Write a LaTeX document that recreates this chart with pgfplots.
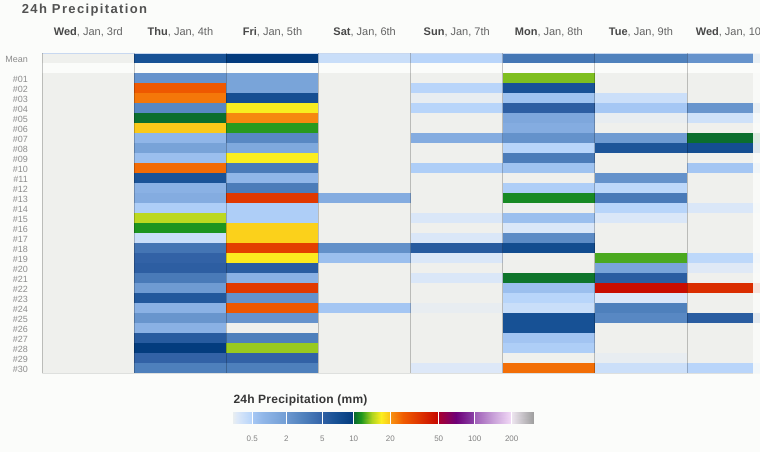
\documentclass[border=0pt]{standalone}
\usepackage{pgfplots}
\pgfplotsset{compat=1.18}
\usepackage{fontspec}
\setmainfont{Liberation Sans}
\newfontfamily\titlefont[LetterSpace=10.5]{Liberation Sans}
\newfontfamily\cbfont[LetterSpace=2]{Liberation Sans}
\definecolor{bgc}{RGB}{251,252,250}
\definecolor{lab}{RGB}{140,140,140}
\definecolor{headn}{RGB}{100,100,100}
\definecolor{headb}{RGB}{72,72,72}
\definecolor{ttl}{RGB}{82,82,82}
\definecolor{cbt}{RGB}{55,55,55}
\definecolor{cbl}{RGB}{130,130,130}
\definecolor{topline}{RGB}{200,216,240}
\definecolor{botline}{RGB}{222,224,222}

\pgfplotsset{
 colormap={precip}{
  rgb255(0pt)=(251,252,250) rgb255(4pt)=(251,252,250)
  rgb255(5pt)=(239,240,237) rgb255(9pt)=(239,240,237)
  rgb255(10pt)=(233,238,240) rgb255(14pt)=(220,232,248) rgb255(28.9pt)=(182,212,250)
  rgb255(29.1pt)=(166,200,244) rgb255(40pt)=(144,182,232) rgb255(62.9pt)=(114,158,212)
  rgb255(63.1pt)=(108,152,208) rgb255(81pt)=(78,128,188) rgb255(98.9pt)=(52,100,168)
  rgb255(99.1pt)=(48,96,164) rgb255(112pt)=(24,82,150) rgb255(130.3pt)=(2,58,124)
  rgb255(130.5pt)=(8,104,48) rgb255(137.7pt)=(30,150,30) rgb255(148.7pt)=(176,212,32)
  rgb255(158pt)=(252,238,32) rgb255(166.9pt)=(250,196,24)
  rgb255(167.1pt)=(248,150,20) rgb255(180pt)=(240,92,0) rgb255(195pt)=(224,56,0)
  rgb255(215.3pt)=(196,4,0)
  rgb255(215.5pt)=(168,0,48) rgb255(233pt)=(110,0,120) rgb255(251.3pt)=(140,70,170)
  rgb255(251.5pt)=(160,96,184) rgb255(270pt)=(200,160,216) rgb255(288.3pt)=(244,220,248)
  rgb255(288.5pt)=(236,228,238) rgb255(310pt)=(160,160,160)
 }
}

% position of a precipitation amount (mm) on the colour scale
\pgfmathdeclarefunction{ppos}{1}{%
  \begingroup
  \pgfmathparse{#1}\let\pv\pgfmathresult
  \pgfmathparse{ifthenelse(\pv<0,2,
    ifthenelse(\pv==0,7,
    ifthenelse(\pv<=0.5,10+38*\pv,
    ifthenelse(\pv<=2,29+(\pv-0.5)*22.6667,
    ifthenelse(\pv<=5,63+(\pv-2)*12,
    ifthenelse(\pv<=10,99+(\pv-5)*6.28,
    ifthenelse(\pv<=20,130.4+(\pv-10)*3.66,
    ifthenelse(\pv<=50,167+(\pv-20)*1.61333,
    ifthenelse(\pv<=100,215.4+(\pv-50)*0.72,
    ifthenelse(\pv<=200,251.4+(\pv-100)*0.37,
      min(310,288.4+(\pv-200)*0.108)))))))))))}%
  \pgfmathsmuggle\pgfmathresult
  \endgroup}

\begin{document}
\begin{tikzpicture}
\useasboundingbox (0,0) rectangle (760pt,452pt);
\clip (0,0) rectangle (760pt,452pt);
\fill[bgc] (0,0) rectangle (760pt,452pt);

\node[anchor=base west, inner sep=0pt, text=ttl] at (21.7pt,438.7pt)
  {\titlefont\bfseries\fontsize{13}{15}\selectfont 24h Precipitation};

\begin{axis}[
  at={(42.3pt,78.7pt)}, anchor=south west,
  width=736.8pt, height=320pt, scale only axis,
  xmin=-0.5, xmax=7.5, ymin=-0.5, ymax=31.5, y dir=reverse,
  axis on top, axis line style={draw=none},
  colormap name=precip, point meta min=0, point meta max=310,
  xtick={0,...,7},
  xticklabels={
    {\textcolor{headb}{\bfseries Wed}, Jan, 3rd},
    {\textcolor{headb}{\bfseries Thu}, Jan, 4th},
    {\textcolor{headb}{\bfseries Fri}, Jan, 5th},
    {\textcolor{headb}{\bfseries Sat}, Jan, 6th},
    {\textcolor{headb}{\bfseries Sun}, Jan, 7th},
    {\textcolor{headb}{\bfseries Mon}, Jan, 8th},
    {\textcolor{headb}{\bfseries Tue}, Jan, 9th},
    {\textcolor{headb}{\bfseries Wed}, Jan, 10th}},
  xticklabel pos=upper,
  xticklabel style={font=\fontsize{11}{13}\selectfont, text=headn, anchor=base, yshift=17.6pt},
  major tick length=0pt,
  extra x ticks={-0.5,0.5,...,7.5},
  extra x tick labels={},
  extra x tick style={grid=major, major grid style={draw=black, opacity=0.22, line width=1pt}},
  ytick={0,2,3,...,31},
  yticklabels={Mean,\#01,\#02,\#03,\#04,\#05,\#06,\#07,\#08,\#09,\#10,\#11,\#12,\#13,\#14,\#15,
    \#16,\#17,\#18,\#19,\#20,\#21,\#22,\#23,\#24,\#25,\#26,\#27,\#28,\#29,\#30},
  yticklabel style={font=\fontsize{9}{10}\selectfont, text=lab, anchor=east, xshift=-11pt, yshift=-1.5pt},
]
\addplot[matrix plot*, mesh/cols=8, point meta={ppos(\thisrow{v})}]
 table[x=x, y=y, row sep=\\] {
x y v \\
0 0 0 \\ 1 0 7.1 \\ 2 0 9.9 \\ 3 0 0.3 \\ 4 0 0.47 \\ 5 0 4.0 \\ 6 0 3.4 \\ 7 0 2.3 \\
0 1 -1 \\ 1 1 -1 \\ 2 1 -1 \\ 3 1 -1 \\ 4 1 -1 \\ 5 1 -1 \\ 6 1 -1 \\ 7 1 -1 \\
0 2 0 \\ 1 2 2.3 \\ 2 2 1.75 \\ 3 2 0 \\ 4 2 0 \\ 5 2 14 \\ 6 2 0 \\ 7 2 0 \\
0 3 0 \\ 1 3 29 \\ 2 3 1.75 \\ 3 3 0 \\ 4 3 0.47 \\ 5 3 7 \\ 6 3 0 \\ 7 3 0 \\
0 4 0 \\ 1 4 24.3 \\ 2 4 7.5 \\ 3 4 0 \\ 4 4 0.01 \\ 5 4 0.65 \\ 6 4 0.28 \\ 7 4 0 \\
0 5 0 \\ 1 5 3 \\ 2 5 17.4 \\ 3 5 0 \\ 4 5 0.48 \\ 5 5 5.3 \\ 6 5 0.52 \\ 7 5 2.2 \\
0 6 0 \\ 1 6 10.3 \\ 2 6 22 \\ 3 6 0 \\ 4 6 0 \\ 5 6 1.6 \\ 6 6 0.01 \\ 7 6 0.25 \\
0 7 0 \\ 1 7 19.7 \\ 2 7 12.2 \\ 3 7 0 \\ 4 7 0 \\ 5 7 1.4 \\ 6 7 0 \\ 7 7 0 \\
0 8 0 \\ 1 8 1.0 \\ 2 8 3 \\ 3 8 0 \\ 4 8 1.4 \\ 5 8 2.4 \\ 6 8 2.0 \\ 7 8 10.3 \\
0 9 0 \\ 1 9 1.8 \\ 2 9 1.55 \\ 3 9 0 \\ 4 9 0 \\ 5 9 0.48 \\ 6 9 6.6 \\ 7 9 7.6 \\
0 10 0 \\ 1 10 0.75 \\ 2 10 17.5 \\ 3 10 0 \\ 4 10 0 \\ 5 10 3.7 \\ 6 10 0 \\ 7 10 0 \\
0 11 0 \\ 1 11 26 \\ 2 11 3.8 \\ 3 11 0 \\ 4 11 0.5 \\ 5 11 0.65 \\ 6 11 0 \\ 7 11 0.55 \\
0 12 0 \\ 1 12 6.9 \\ 2 12 1.0 \\ 3 12 0 \\ 4 12 0 \\ 5 12 0 \\ 6 12 2.4 \\ 7 12 0 \\
0 13 0 \\ 1 13 1.2 \\ 2 13 3.7 \\ 3 13 0 \\ 4 13 0 \\ 5 13 0.5 \\ 6 13 0.42 \\ 7 13 0 \\
0 14 0 \\ 1 14 1.4 \\ 2 14 37.4 \\ 3 14 1.4 \\ 4 14 0 \\ 5 14 11.5 \\ 6 14 3.8 \\ 7 14 0 \\
0 15 0 \\ 1 15 0.5 \\ 2 15 0.5 \\ 3 15 0 \\ 4 15 0 \\ 5 15 0 \\ 6 15 0.48 \\ 7 15 0.13 \\
0 16 0 \\ 1 16 15.4 \\ 2 16 0.5 \\ 3 16 0 \\ 4 16 0.13 \\ 5 16 0.75 \\ 6 16 0.13 \\ 7 16 0 \\
0 17 0 \\ 1 17 11.9 \\ 2 17 19.2 \\ 3 17 0 \\ 4 17 0 \\ 5 17 0.13 \\ 6 17 0 \\ 7 17 0 \\
0 18 0 \\ 1 18 0.3 \\ 2 18 19.2 \\ 3 18 0 \\ 4 18 0.13 \\ 5 18 2.8 \\ 6 18 0 \\ 7 18 0 \\
0 19 0 \\ 1 19 4.1 \\ 2 19 35.5 \\ 3 19 2.5 \\ 4 19 5.8 \\ 5 19 7.8 \\ 6 19 0 \\ 7 19 0 \\
0 20 0 \\ 1 20 5 \\ 2 20 17.8 \\ 3 20 0.75 \\ 4 20 0.13 \\ 5 20 0 \\ 6 20 12.9 \\ 7 20 0.42 \\
0 21 0 \\ 1 21 5.3 \\ 2 21 5.5 \\ 3 21 0 \\ 4 21 0 \\ 5 21 0 \\ 6 21 1.75 \\ 7 21 0.08 \\
0 22 0 \\ 1 22 3.8 \\ 2 22 1.2 \\ 3 22 0 \\ 4 22 0.13 \\ 5 22 10.6 \\ 6 22 5.5 \\ 7 22 0 \\
0 23 0 \\ 1 23 2.0 \\ 2 23 37 \\ 3 23 0 \\ 4 23 0 \\ 5 23 0.75 \\ 6 23 48 \\ 7 23 40 \\
0 24 0 \\ 1 24 6.2 \\ 2 24 2.4 \\ 3 24 0 \\ 4 24 0 \\ 5 24 0.48 \\ 6 24 0.12 \\ 7 24 0 \\
0 25 0 \\ 1 25 1.2 \\ 2 25 29.3 \\ 3 25 0.55 \\ 4 25 0.01 \\ 5 25 0.3 \\ 6 25 3.5 \\ 7 25 0 \\
0 26 0 \\ 1 26 2.2 \\ 2 26 2.3 \\ 3 26 0 \\ 4 26 0 \\ 5 26 7.2 \\ 6 26 3 \\ 7 26 5.5 \\
0 27 0 \\ 1 27 1.2 \\ 2 27 0 \\ 3 27 0 \\ 4 27 0 \\ 5 27 7.2 \\ 6 27 0 \\ 7 27 0 \\
0 28 0 \\ 1 28 5.8 \\ 2 28 3.5 \\ 3 28 0 \\ 4 28 0 \\ 5 28 0.6 \\ 6 28 0 \\ 7 28 0 \\
0 29 0 \\ 1 29 9.8 \\ 2 29 14.5 \\ 3 29 0 \\ 4 29 0 \\ 5 29 0.5 \\ 6 29 0 \\ 7 29 0 \\
0 30 0 \\ 1 30 5 \\ 2 30 5 \\ 3 30 0 \\ 4 30 0 \\ 5 30 0 \\ 6 30 0.01 \\ 7 30 0 \\
0 31 0 \\ 1 31 3.5 \\ 2 31 3.5 \\ 3 31 0 \\ 4 31 0.1 \\ 5 31 25.6 \\ 6 31 0.28 \\ 7 31 0.47 \\
};
\draw[topline, line width=1pt] (axis cs:-0.5,-0.5) -- (axis cs:7.5,-0.5);
\draw[botline, line width=1.2pt] (axis cs:-0.5,31.55) -- (axis cs:7.5,31.55);
\fill[bgc, opacity=0.88] (axis cs:7.217,-0.7) rectangle (axis cs:7.6,31.7);
\end{axis}

\node[anchor=base west, inner sep=0pt, text=cbt] at (233.3pt,48.7pt)
  {\cbfont\bfseries\fontsize{12}{14}\selectfont 24h Precipitation (mm)};

\begin{axis}[
  at={(233.3pt,28pt)}, anchor=south west,
  width=300pt, height=12.3pt, scale only axis,
  xmin=10, xmax=310, ymin=0, ymax=1,
  axis on top, axis line style={draw=none},
  colormap name=precip, point meta min=0, point meta max=310,
  ytick=\empty,
  xtick={29,63,99,130.4,167,215.4,251.4,288.4},
  xticklabels={0.5,2,5,10,20,50,100,200},
  xticklabel style={font=\fontsize{8}{9}\selectfont, text=cbl, anchor=base, yshift=-17.7pt},
  major tick length=0pt,
  xmajorgrids, major grid style={draw=white, line width=1pt},
]
\addplot[surf, shader=interp, point meta=x] coordinates {
(10,0) (14,0) (28.9,0) (29.1,0) (40,0) (62.9,0) (63.1,0) (81,0) (98.9,0) (99.1,0) (112,0) (130.3,0)
(130.5,0) (137.7,0) (148.7,0) (158,0) (166.9,0) (167.1,0) (180,0) (195,0) (215.3,0) (215.5,0) (233,0)
(251.3,0) (251.5,0) (270,0) (288.3,0) (288.5,0) (310,0)

(10,1) (14,1) (28.9,1) (29.1,1) (40,1) (62.9,1) (63.1,1) (81,1) (98.9,1) (99.1,1) (112,1) (130.3,1)
(130.5,1) (137.7,1) (148.7,1) (158,1) (166.9,1) (167.1,1) (180,1) (195,1) (215.3,1) (215.5,1) (233,1)
(251.3,1) (251.5,1) (270,1) (288.3,1) (288.5,1) (310,1)
};
\end{axis}
\end{tikzpicture}
\end{document}
